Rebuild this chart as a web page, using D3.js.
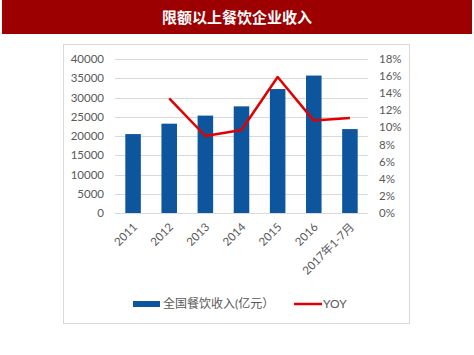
<!DOCTYPE html>
<html>
<head>
<meta charset="utf-8">
<script src="https://cdn.jsdelivr.net/npm/d3@7"></script>
<style>
  body { margin: 0; background: #fff; }
  text { font-family: Lato, "Noto Sans CJK SC", sans-serif; }
</style>
</head>
<body>
<div id="chart"></div>
<script>
const categories = ["2011", "2012", "2013", "2014", "2015", "2016", "2017年1-7月"];
const revenue = [20500, 23200, 25300, 27700, 32200, 35700, 21800];
const yoy = [null, 13.4, 9.0, 9.7, 15.9, 10.8, 11.1];
const leftTicks = [0, 5000, 10000, 15000, 20000, 25000, 30000, 35000, 40000];
const rightTicks = [0, 2, 4, 6, 8, 10, 12, 14, 16, 18];

const W = 474, H = 355;
const plot = { left: 115, right: 368, top: 59, bottom: 213 };

const svg = d3.select("#chart").append("svg")
  .attr("width", W)
  .attr("height", H);

svg.append("rect").attr("width", W).attr("height", H).attr("fill", "#fff");

// title bar
svg.append("rect")
  .attr("x", 2).attr("y", 0)
  .attr("width", 470).attr("height", 34)
  .attr("fill", "#9c0000");
svg.append("text")
  .attr("x", 237).attr("y", 19)
  .attr("text-anchor", "middle")
  .attr("dominant-baseline", "middle")
  .attr("fill", "#fff")
  .attr("font-size", 15)
  .attr("font-weight", "bold")
  .style("font-family", "'Noto Sans CJK SC', sans-serif")
  .text("限额以上餐饮企业收入");

// chart box
svg.append("rect")
  .attr("x", 63.5).attr("y", 44.5)
  .attr("width", 346).attr("height", 279)
  .attr("fill", "none")
  .attr("stroke", "#d9d9d9");

const x = d3.scaleBand()
  .domain(categories)
  .range([plot.left, plot.right])
  .paddingInner(0.57)
  .paddingOuter(0.285);

const yL = d3.scaleLinear().domain([0, 40000]).range([plot.bottom, plot.top]);
const yR = d3.scaleLinear().domain([0, 18]).range([plot.bottom, plot.top]);

// gridlines
svg.append("g")
  .selectAll("line")
  .data(leftTicks)
  .enter().append("line")
  .attr("x1", plot.left).attr("x2", plot.right)
  .attr("y1", d => Math.round(yL(d)) + 0.5)
  .attr("y2", d => Math.round(yL(d)) + 0.5)
  .attr("stroke", "#d9d9d9");

// left axis labels
svg.append("g")
  .selectAll("text")
  .data(leftTicks)
  .enter().append("text")
  .attr("x", 104)
  .attr("y", d => yL(d))
  .attr("dy", "0.35em")
  .attr("text-anchor", "end")
  .attr("font-size", 11.5)
  .attr("fill", "#595959")
  .text(d => d);

// right axis labels
svg.append("g")
  .selectAll("text")
  .data(rightTicks)
  .enter().append("text")
  .attr("x", 379)
  .attr("y", d => yR(d))
  .attr("dy", "0.35em")
  .attr("font-size", 11.5)
  .attr("fill", "#595959")
  .text(d => d + "%");

// bars
svg.append("g")
  .selectAll("rect")
  .data(categories)
  .enter().append("rect")
  .attr("x", d => x(d))
  .attr("width", x.bandwidth())
  .attr("y", (d, i) => yL(revenue[i]))
  .attr("height", (d, i) => plot.bottom - yL(revenue[i]))
  .attr("fill", "#0d569e");

// yoy line
const line = d3.line()
  .defined(d => d.v != null)
  .x(d => x(d.c) + x.bandwidth() / 2)
  .y(d => yR(d.v));

svg.append("path")
  .datum(categories.map((c, i) => ({ c, v: yoy[i] })))
  .attr("d", line)
  .attr("fill", "none")
  .attr("stroke", "#e00000")
  .attr("stroke-width", 2.5)
  .attr("stroke-linejoin", "round");

// x labels
svg.append("g")
  .selectAll("text")
  .data(categories)
  .enter().append("text")
  .attr("transform", d => `translate(${x(d) + x.bandwidth() / 2 + 2},${plot.bottom + 12}) rotate(-45)`)
  .attr("text-anchor", "end")
  .attr("dy", "0.35em")
  .attr("font-size", 11.5)
  .attr("fill", "#595959")
  .text(d => d);

// legend
const lg = svg.append("g");
lg.append("rect")
  .attr("x", 133).attr("y", 301)
  .attr("width", 27).attr("height", 6)
  .attr("fill", "#0d569e");
lg.append("text")
  .attr("x", 163).attr("y", 304)
  .attr("dy", "0.35em")
  .attr("font-size", 12)
  .attr("fill", "#595959")
  .text("全国餐饮收入(亿元）");
lg.append("line")
  .attr("x1", 294).attr("x2", 322)
  .attr("y1", 304).attr("y2", 304)
  .attr("stroke", "#e00000")
  .attr("stroke-width", 2.5);
lg.append("text")
  .attr("x", 323).attr("y", 304)
  .attr("dy", "0.35em")
  .attr("font-size", 12)
  .attr("fill", "#595959")
  .text("YOY");
</script>
</body>
</html>
